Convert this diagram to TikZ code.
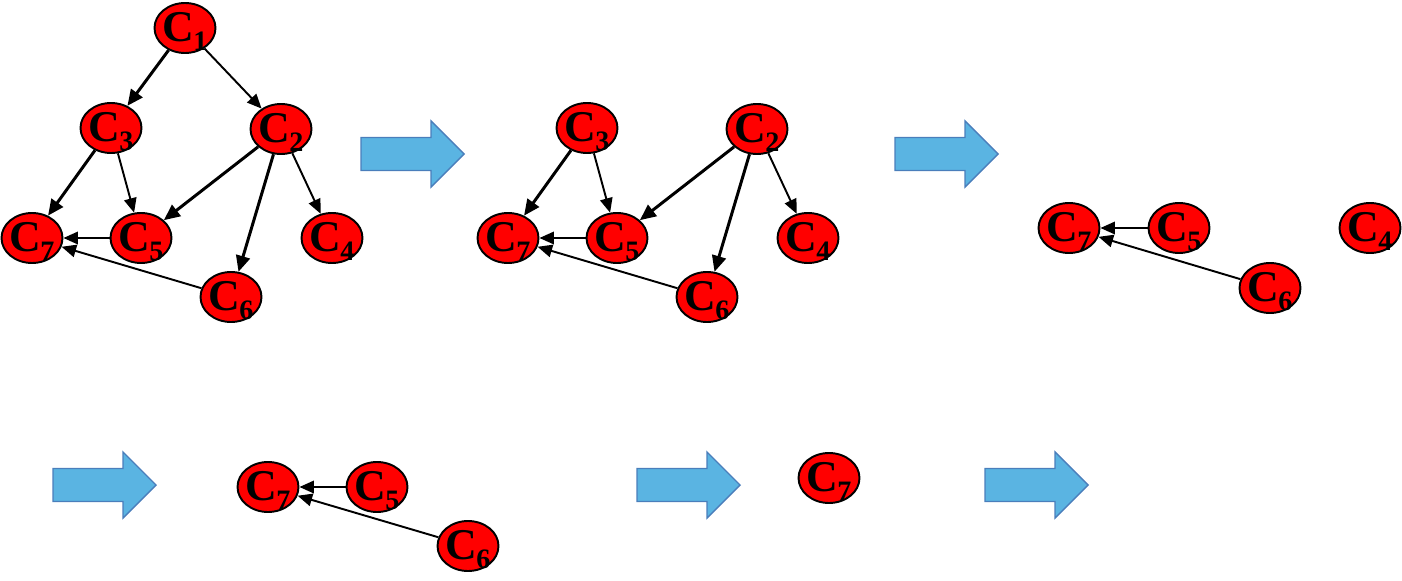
\documentclass[tikz,border=0pt]{standalone}
\usepackage{fontspec}
\setmainfont{Liberation Serif}
\usetikzlibrary{arrows.meta,shapes.geometric}
\definecolor{nodered}{HTML}{FF0000}
\definecolor{stagefill}{HTML}{5AB4E2}
\definecolor{stageline}{HTML}{4A7EBB}
\newcommand\cn[1]{C\kern-0.5pt\raisebox{-5pt}{\fontsize{16}{16}\selectfont #1}}
\tikzset{
  cnode/.style={ellipse,draw=black,line width=1.1pt,fill=nodered,minimum width=1.22cm,minimum height=1.0cm,inner sep=-3pt,text depth=1pt,font=\fontsize{25}{25}\selectfont\bfseries},
  heavy/.style={-{Triangle[length=3.2mm,width=2.8mm]},line width=1.7pt},
  light/.style={-{Triangle[length=2.9mm,width=2.5mm]},line width=1.1pt},
  stagearrow/.pic={
    \draw[fill=stagefill,draw=stageline,line width=0.8pt]
      (0,-16.5) -- (70,-16.5) -- (70,-33) -- (103,0) -- (70,33) -- (70,16.5) -- (0,16.5) -- cycle;
  }
}
\begin{document}
\begin{tikzpicture}[x=0.02cm,y=-0.02cm]
\useasboundingbox (0,0) rectangle (1402,581);
% stage 1
\node[cnode] (a1) at (185,28) {\cn{1}};
\node[cnode] (a3) at (111,128) {\cn{3}};
\node[cnode] (a2) at (281,129) {\cn{2}};
\node[cnode] (a7) at (32,238) {\cn{7}};
\node[cnode] (a5) at (141,238) {\cn{5}};
\node[cnode] (a4) at (332,238) {\cn{4}};
\node[cnode] (a6) at (231,297) {\cn{6}};
\draw[heavy] (a1) -- (a3);
\draw[light] (a1) -- (a2);
\draw[heavy] (a3) -- (a7);
\draw[light] (a3) -- (a5);
\draw[heavy] (a2) -- (a5);
\draw[heavy] (a2) -- (a6);
\draw[light] (a2) -- (a4);
\draw[light] (a5) -- (a7);
\draw[light] (a6) -- (a7);
\pic at (361,154) {stagearrow};
% stage 2
\node[cnode] (b3) at (587,128) {\cn{3}};
\node[cnode] (b2) at (757,129) {\cn{2}};
\node[cnode] (b7) at (508,238) {\cn{7}};
\node[cnode] (b5) at (617,238) {\cn{5}};
\node[cnode] (b4) at (808,238) {\cn{4}};
\node[cnode] (b6) at (707,297) {\cn{6}};
\draw[heavy] (b3) -- (b7);
\draw[light] (b3) -- (b5);
\draw[heavy] (b2) -- (b5);
\draw[heavy] (b2) -- (b6);
\draw[light] (b2) -- (b4);
\draw[light] (b5) -- (b7);
\draw[light] (b6) -- (b7);
\pic at (895,154) {stagearrow};
% stage 3
\node[cnode] (c7) at (1069,228) {\cn{7}};
\node[cnode] (c5) at (1179,228) {\cn{5}};
\node[cnode] (c4) at (1370,228) {\cn{4}};
\node[cnode] (c6) at (1270,288) {\cn{6}};
\draw[light] (c5) -- (c7);
\draw[light] (c6) -- (c7);
% stage 4
\pic at (53,485) {stagearrow};
\node[cnode] (d7) at (268,487) {\cn{7}};
\node[cnode] (d5) at (377,487) {\cn{5}};
\node[cnode] (d6) at (468,546) {\cn{6}};
\draw[light] (d5) -- (d7);
\draw[light] (d6) -- (d7);
% stage 5
\pic at (637,485) {stagearrow};
\node[cnode] (e7) at (829,478) {\cn{7}};
\pic at (985,485) {stagearrow};
\end{tikzpicture}
\end{document}
